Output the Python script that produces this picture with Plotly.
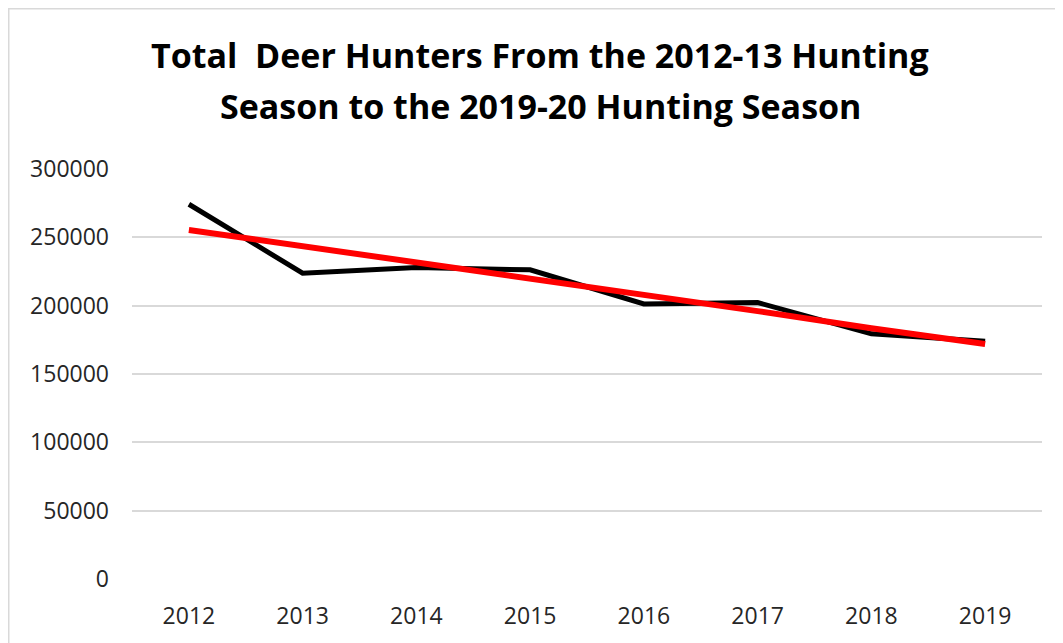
import plotly.graph_objects as go

years = ["2012", "2013", "2014", "2015", "2016", "2017", "2018", "2019"]
hunters = [274200, 223800, 227900, 226200, 201300, 202300, 179400, 173900]
trend = [255400, 243500, 232500, 220200, 208400, 196000, 183500, 172000]
y_ticks = [0, 50000, 100000, 150000, 200000, 250000, 300000]
title_lines = ["Total  Deer Hunters From the 2012-13 Hunting",
               "Season to the 2019-20 Hunting Season"]

# page body has an 8px margin, so the figure is sized to fit inside it
W, H = 1055, 635
L, R, T, B = 124, 21, 161, 64

fig = go.Figure()
fig.add_trace(go.Scatter(x=years, y=hunters, mode="lines",
                         line=dict(color="#000000", width=5), name="Hunters"))
fig.add_trace(go.Scatter(x=years, y=trend, mode="lines",
                         line=dict(color="#ff0000", width=6), name="Trend"))

pw = W - L - R
ph = H - T - B
def px_x(p):
    return (p - L) / pw
def px_y(p):
    return (H - B - p) / ph

fig.update_layout(
    width=W, height=H,
    margin=dict(l=L, r=R, t=T, b=B, pad=0),
    paper_bgcolor="white", plot_bgcolor="white",
    showlegend=False,
    font=dict(family="Open Sans, Liberation Sans, sans-serif", color="#404040"),
    xaxis=dict(type="category", range=[-0.5, 7.5], showgrid=False,
               showline=False, zeroline=False,
               tickfont=dict(size=23, color="#262626"),
               ticks="", ticklabelstandoff=21),
    yaxis=dict(range=[0, 300000], tickvals=y_ticks,
               ticktext=[str(v) for v in y_ticks],
               showgrid=True, gridcolor="#d9d9d9", gridwidth=2,
               zeroline=False, showline=False,
               tickfont=dict(size=23, color="#262626"),
               ticks="", ticklabelstandoff=22),
    shapes=[dict(type="rect", xref="paper", yref="paper",
                 x0=px_x(0), x1=px_x(1075), y0=px_y(660), y1=px_y(0),
                 line=dict(color="#d9d9d9", width=3), layer="below")],
    annotations=[
        dict(text="<b>" + title_lines[0] + "</b>", xref="paper", yref="paper",
             x=px_x(532), y=px_y(47.5), showarrow=False, xanchor="center", yanchor="middle",
             font=dict(family="Open Sans, sans-serif", size=34, color="#000000")),
        dict(text="<b>" + title_lines[1] + "</b>", xref="paper", yref="paper",
             x=px_x(532), y=px_y(98), showarrow=False, xanchor="center", yanchor="middle",
             font=dict(family="Open Sans, sans-serif", size=34, color="#000000")),
    ],
)

fig.write_html("out.html")
